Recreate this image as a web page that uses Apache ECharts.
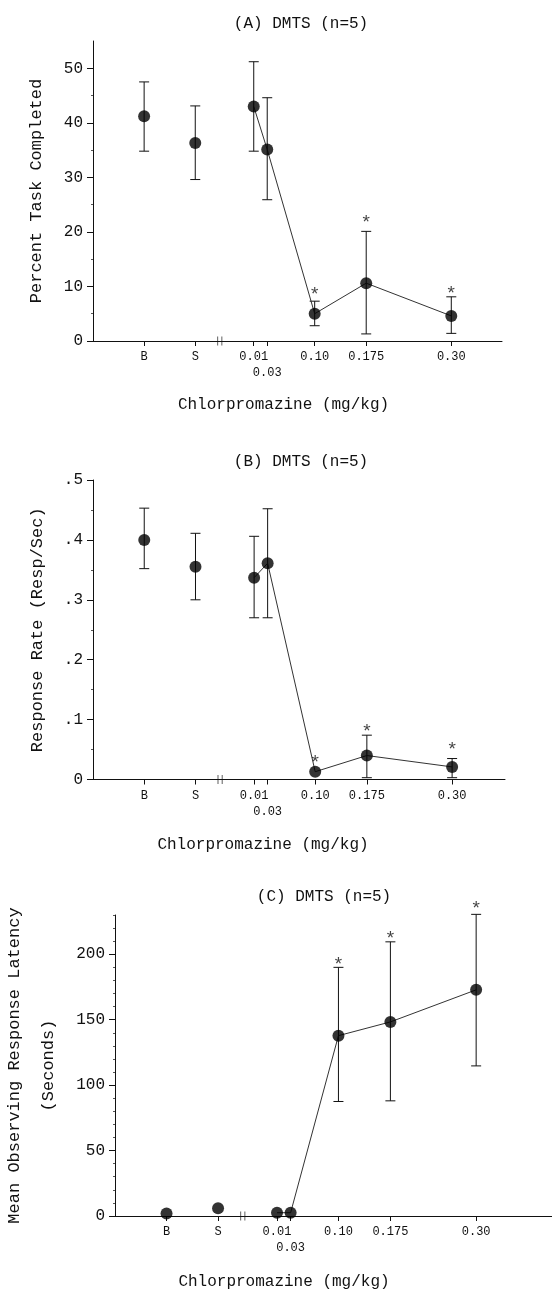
<!DOCTYPE html>
<html>
<head>
<meta charset="utf-8">
<script src="https://cdn.jsdelivr.net/npm/echarts@6/dist/echarts.min.js"></script>
<style>
  html, body { margin: 0; padding: 0; background: #fff; }
  #chart { width: 552px; height: 1291px; }
</style>
</head>
<body>
<div id="chart"></div>
<script>
// dose conditions along the x axis (B = baseline, S = saline)
const doses = ["B", "S", "0.01", "0.03", "0.10", "0.175", "0.30"];
// where each condition sits on the (non-linear) dose axis, 0..100 scale
const doseAxisPos = [12.5, 25, 39.3, 42.6, 54.2, 66.8, 87.6];
const breakPos = 31;
// connected points start at the first drug dose
const firstDrug = 2;

// (A) percent task completed
const taskMean = [41.2, 36.3, 43.0, 35.1, 5.0, 10.6, 4.6];
const taskLow = [34.8, 29.6, 34.8, 25.9, 2.8, 1.3, 1.4];
const taskHigh = [47.5, 43.1, 51.2, 44.6, 7.3, 20.1, 8.1];
const taskStar = [null, null, null, null, 9.4, 22.6, 9.6];
const taskTicks = [0, 10, 20, 30, 40, 50];
const taskMinor = [5, 15, 25, 35, 45];

// (B) response rate
const rateMean = [0.400, 0.355, 0.337, 0.361, 0.013, 0.040, 0.021];
const rateLow = [0.352, 0.300, 0.270, 0.270, null, 0.003, 0.003];
const rateHigh = [0.453, 0.411, 0.406, 0.452, null, 0.074, 0.035];
const rateStar = [null, null, null, null, 0.036, 0.087, 0.058];
const rateTicks = [0, 0.1, 0.2, 0.3, 0.4, 0.5];
const rateMinor = [0.05, 0.15, 0.25, 0.35, 0.45];

// (C) mean observing response latency
const latMean = [2.0, 5.9, 2.5, 2.5, 137.8, 148.3, 172.8];
const latLow = [null, null, null, null, 87.5, 88.0, 114.7];
const latHigh = [null, null, null, null, 190.0, 209.5, 230.5];
const latStar = [null, null, null, null, 196, 215.6, 238.5];
const latTicks = [0, 50, 100, 150, 200];
const latMinor = [10, 20, 30, 40, 60, 70, 80, 90, 110, 120, 130, 140, 160, 170, 180, 190, 210, 220, 230];

const FONT = "Liberation Mono";
const INK = "#111";

const panels = [
  {
    title: "(A) DMTS (n=5)", titleX: 296, titleY: 11,
    grid: { left: 93, top: 41, width: 409, height: 300 },
    xMax: 100, yMax: 55, ticks: taskTicks, minor: taskMinor,
    yName: "Percent Task Completed", yNameGap: 47, yNameLH: 20,
    xNamePad: 28, xNameGap: 56,
    fmt: (v) => String(v),
    mean: taskMean, low: taskLow, high: taskHigh, star: taskStar,
  },
  {
    title: "(B) DMTS (n=5)", titleX: 296, titleY: 449,
    grid: { left: 93, top: 480, width: 412, height: 299.5 },
    xMax: 100.5, yMax: 0.5, ticks: rateTicks, minor: rateMinor,
    yName: "Response Rate (Resp/Sec)", yNameGap: 46, yNameLH: 20,
    xNamePad: 72, xNameGap: 57,
    fmt: (v) => (v === 0 ? "0" : String(Math.round(v * 10) / 10).replace(/^0/, "")),
    mean: rateMean, low: rateLow, high: rateHigh, star: rateStar,
  },
  {
    title: "(C) DMTS (n=5)", titleX: 319, titleY: 884,
    grid: { left: 115, top: 915, width: 437, height: 301 },
    xMax: 106, yMax: 230, ticks: latTicks, minor: latMinor,
    yName: "Mean Observing Response Latency\n(Seconds)", yNameGap: 42, yNameLH: 34,
    xNamePad: 99, xNameGap: 58,
    fmt: (v) => String(v),
    mean: latMean, low: latLow, high: latHigh, star: latStar,
  },
];

function doseLabel(v) {
  const i = doseAxisPos.findIndex((p) => Math.abs(p - v) < 1e-6);
  if (i < 0) return "";
  // 0.03 sits too close to 0.01, so it drops to a second line
  return doses[i] === "0.03" ? "\n0.03" : doses[i];
}

function errorBarItem(params, api) {
  const x = api.value(0);
  const lo = api.coord([x, api.value(1)]);
  const hi = api.coord([x, api.value(2)]);
  const cap = 5;
  const style = { stroke: INK, lineWidth: 1, fill: null };
  return {
    type: "group",
    children: [
      { type: "line", shape: { x1: lo[0], y1: lo[1], x2: hi[0], y2: hi[1] }, style },
      { type: "line", shape: { x1: hi[0] - cap, y1: hi[1], x2: hi[0] + cap, y2: hi[1] }, style },
      { type: "line", shape: { x1: lo[0] - cap, y1: lo[1], x2: lo[0] + cap, y2: lo[1] }, style },
    ],
  };
}

const option = {
  animation: false,
  backgroundColor: "#fff",
  textStyle: { fontFamily: FONT, color: INK },
  title: [],
  grid: [],
  xAxis: [],
  yAxis: [],
  series: [],
};

panels.forEach((p, g) => {
  option.title.push({
    text: p.title,
    left: p.titleX,
    top: p.titleY,
    textAlign: "center",
    textStyle: { fontFamily: FONT, fontSize: 16, fontWeight: "normal", color: INK },
  });
  option.grid.push(Object.assign({ outerBoundsMode: "none", containLabel: false }, p.grid));

  option.xAxis.push({
    gridIndex: g,
    type: "value",
    min: 0,
    max: p.xMax,
    splitLine: { show: false },
    axisLine: { onZero: false, lineStyle: { color: INK, width: 1 } },
    axisTick: { customValues: doseAxisPos, length: 5, lineStyle: { color: INK } },
    axisLabel: {
      customValues: doseAxisPos,
      formatter: doseLabel,
      hideOverlap: false,
      fontFamily: FONT,
      fontSize: 12,
      lineHeight: 16,
      margin: 8,
      color: INK,
    },
    name: "Chlorpromazine (mg/kg)",
    nameLocation: "middle",
    nameGap: p.xNameGap,
    nameTextStyle: { fontFamily: FONT, fontSize: 16, color: INK, padding: [0, p.xNamePad, 0, 0] },
  });

  option.yAxis.push({
    gridIndex: g,
    type: "value",
    min: 0,
    max: p.yMax,
    splitLine: { show: false },
    axisLine: { lineStyle: { color: INK, width: 1 } },
    axisTick: { customValues: p.ticks, length: 6, lineStyle: { color: INK } },
    axisLabel: {
      customValues: p.ticks,
      formatter: p.fmt,
      fontFamily: FONT,
      fontSize: 16,
      margin: 10,
      color: INK,
    },
    name: p.yName,
    nameLocation: "middle",
    nameRotate: 90,
    nameGap: p.yNameGap,
    nameTextStyle: { fontFamily: FONT, fontSize: 17, color: INK, lineHeight: p.yNameLH },
  });
});

// minor tick axes, one per panel
panels.forEach((p, g) => {
  option.yAxis.push({
    gridIndex: g,
    type: "value",
    min: 0,
    max: p.yMax,
    position: "left",
    splitLine: { show: false },
    axisLine: { show: false },
    axisLabel: { show: false },
    axisTick: { customValues: p.minor, length: 2, lineStyle: { color: "#555" } },
  });
});

panels.forEach((p, g) => {
  const pts = doses.map((d, i) => [doseAxisPos[i], p.mean[i]]);
  const bars = doses
    .map((d, i) => (p.low[i] == null ? null : [doseAxisPos[i], p.low[i], p.high[i]]))
    .filter(Boolean);
  const stars = doses
    .map((d, i) => (p.star[i] == null ? null : [doseAxisPos[i], p.star[i]]))
    .filter(Boolean);

  option.series.push(
    {
      type: "custom",
      xAxisIndex: g,
      yAxisIndex: g,
      clip: false,
      renderItem: errorBarItem,
      encode: { x: 0, y: [1, 2] },
      data: bars,
      z: 2,
    },
    {
      type: "line",
      xAxisIndex: g,
      yAxisIndex: g,
      data: pts.slice(firstDrug),
      symbol: "none",
      lineStyle: { color: "#333", width: 1 },
      z: 3,
    },
    {
      type: "scatter",
      xAxisIndex: g,
      yAxisIndex: g,
      data: pts,
      symbol: "circle",
      symbolSize: 12,
      clip: false,
      itemStyle: { color: "#000" },
      z: 4,
    },
    {
      type: "scatter",
      xAxisIndex: g,
      yAxisIndex: g,
      data: stars,
      symbolSize: 1,
      clip: false,
      itemStyle: { color: "rgba(0,0,0,0)" },
      label: {
        show: true,
        position: "inside",
        formatter: "*",
        fontFamily: FONT,
        fontSize: 19,
        color: INK,
        offset: [0, 5],
      },
      z: 5,
    },
    {
      // axis break between saline and the dose range
      type: "scatter",
      xAxisIndex: g,
      yAxisIndex: g,
      data: [[breakPos, 0]],
      symbol: "path://M0,0h1v10h-1zM5,0h1v10h-1z",
      symbolSize: [5, 9],
      clip: false,
      itemStyle: { color: INK },
      silent: true,
      z: 5,
    }
  );
});

const chart = echarts.init(document.getElementById("chart"), null, { renderer: "canvas" });
chart.setOption(option);
</script>
</body>
</html>
